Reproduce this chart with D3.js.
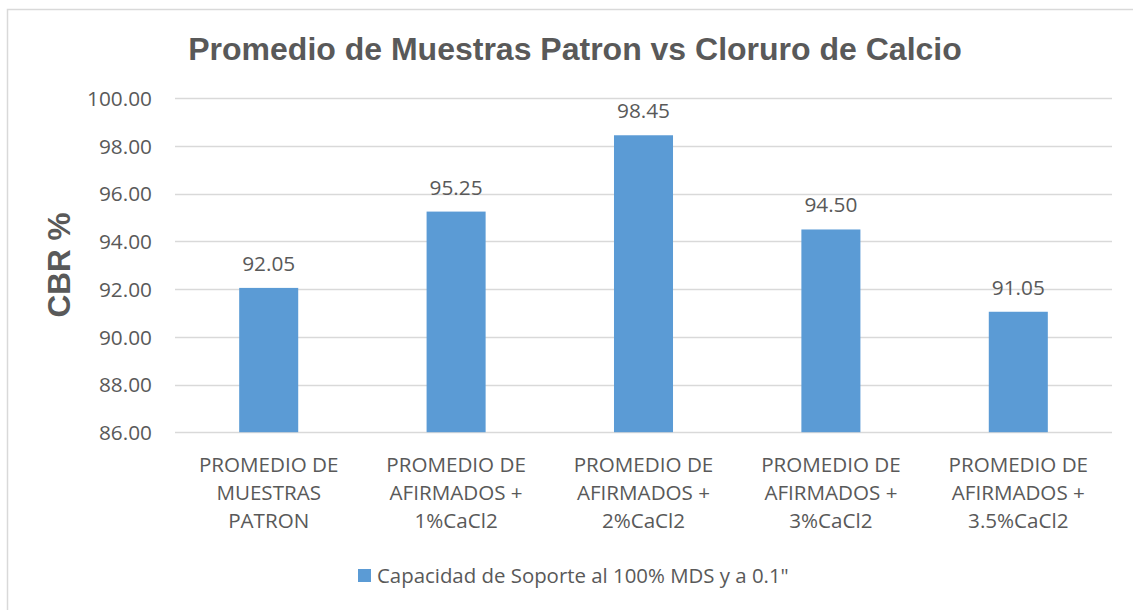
<!DOCTYPE html>
<html>
<head>
<meta charset="utf-8">
<script src="https://cdn.jsdelivr.net/npm/d3@7"></script>
<style>
html,body{margin:0;padding:0;background:#fff;}
svg{display:block;}
</style>
</head>
<body>
<svg id="chart" width="1133" height="610"></svg>
<script>
const title = "Promedio de Muestras Patron vs Cloruro de Calcio";
const yTitle = "CBR %";
const categories = [
  ["PROMEDIO DE", "MUESTRAS", "PATRON"],
  ["PROMEDIO DE", "AFIRMADOS +", "1%CaCl2"],
  ["PROMEDIO DE", "AFIRMADOS +", "2%CaCl2"],
  ["PROMEDIO DE", "AFIRMADOS +", "3%CaCl2"],
  ["PROMEDIO DE", "AFIRMADOS +", "3.5%CaCl2"]
];
const values = [92.05, 95.25, 98.45, 94.50, 91.05];
const yTicks = [86, 88, 90, 92, 94, 96, 98, 100];
const seriesName = "Capacidad de Soporte al 100% MDS y a 0.1\"";

const svg = d3.select("#chart");
const textColor = "#595959";
const gridColor = "#D9D9D9";
const barColor = "#5B9BD5";
const font = "'Open Sans', sans-serif";

// chart border
svg.append("rect").attr("x", 7.5).attr("y", 9.5).attr("width", 1140).attr("height", 620)
  .attr("fill", "#fff").attr("stroke", gridColor).attr("stroke-width", 1.5);

const plot = {left: 175, right: 1112, top: 98.3, bottom: 432.2};

const x = d3.scaleBand().domain(d3.range(categories.length))
  .range([plot.left, plot.right]).paddingInner(0.685).paddingOuter(0.3425);
const y = d3.scaleLinear().domain([86, 100]).range([plot.bottom, plot.top]);

// gridlines
svg.append("g").selectAll("line").data(yTicks).join("line")
  .attr("x1", plot.left).attr("x2", plot.right)
  .attr("y1", d => Math.round(y(d)) + 0.5).attr("y2", d => Math.round(y(d)) + 0.5)
  .attr("stroke", gridColor).attr("stroke-width", 1.5);

// y axis labels
const yAxis = d3.axisLeft(y).tickValues(yTicks).tickFormat(d3.format(".2f")).tickSize(0).tickPadding(0);
const ya = svg.append("g").attr("transform", `translate(152,0)`).call(yAxis);
ya.select(".domain").remove();
ya.selectAll("text").attr("font-family", font).attr("font-size", "20.8px").attr("fill", textColor)
  .attr("dy", "0.35em");

// bars
svg.append("g").selectAll("rect").data(values).join("rect")
  .attr("x", (d, i) => x(i)).attr("width", x.bandwidth())
  .attr("y", d => y(d)).attr("height", d => y(86) - y(d))
  .attr("fill", barColor);

// data labels
svg.append("g").selectAll("text").data(values).join("text")
  .attr("x", (d, i) => x(i) + x.bandwidth() / 2)
  .attr("y", d => y(d) - 17)
  .attr("text-anchor", "middle")
  .attr("font-family", font).attr("font-size", "20.8px").attr("fill", textColor)
  .text(d => d3.format(".2f")(d));

// category labels
const cat = svg.append("g").selectAll("text").data(categories).join("text")
  .attr("text-anchor", "middle")
  .attr("font-family", font).attr("font-size", "20.6px").attr("fill", textColor);
cat.each(function(lines, i) {
  const t = d3.select(this);
  lines.forEach((ln, j) => {
    t.append("tspan").attr("x", x(i) + x.bandwidth() / 2).attr("y", 472 + j * 28).text(ln);
  });
});

// title
svg.append("text").attr("x", 575).attr("y", 60).attr("text-anchor", "middle")
  .attr("font-family", "'Liberation Sans', Arial, sans-serif").attr("font-weight", "bold")
  .attr("font-size", "32px").attr("fill", textColor).text(title);

// y title
svg.append("text").attr("transform", `translate(70,265) rotate(-90)`).attr("text-anchor", "middle")
  .attr("font-family", "'Liberation Sans', Arial, sans-serif").attr("font-weight", "bold")
  .attr("font-size", "31.5px").attr("fill", textColor).text(yTitle);

// legend
const lg = svg.append("g");
lg.append("rect").attr("x", 358).attr("y", 569).attr("width", 13).attr("height", 13).attr("fill", barColor);
lg.append("text").attr("x", 377).attr("y", 583).attr("font-family", font).attr("font-size", "20.4px")
  .attr("fill", textColor).text(seriesName);
</script>
</body>
</html>
